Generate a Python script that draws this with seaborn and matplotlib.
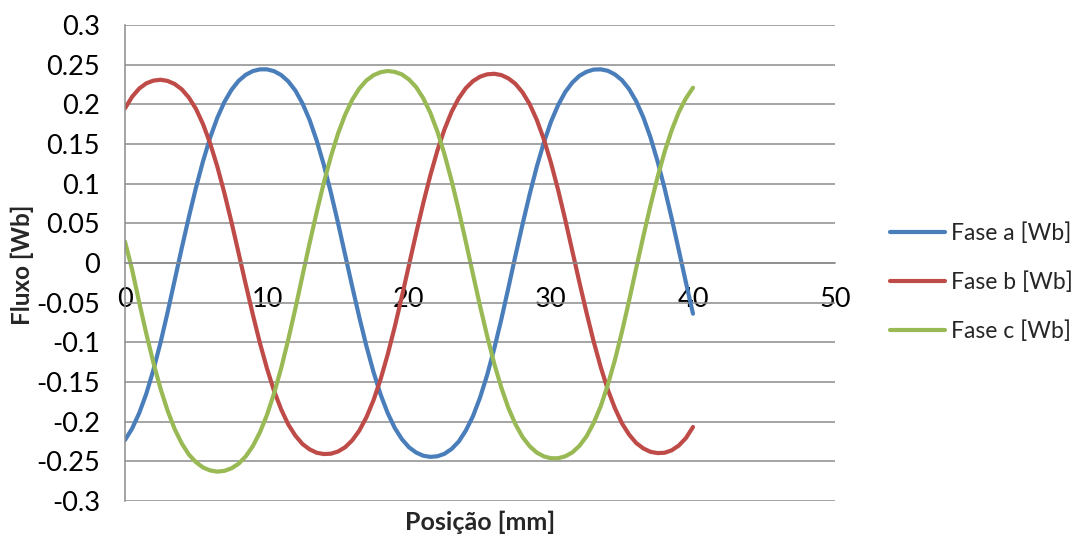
import numpy as np
import pandas as pd
import matplotlib
matplotlib.use("Agg")
import matplotlib.pyplot as plt
import seaborn as sns

# Position along the machine [mm], sampled every 0.5 mm
posicao = np.arange(0, 40.5, 0.5)

fase_a = [
    -0.2232, -0.2087, -0.1892, -0.1648, -0.1348, -0.1005, -0.0622, -0.0216,
    0.0191, 0.0581, 0.0951, 0.1287, 0.1582, 0.1830, 0.2030, 0.2183,
    0.2296, 0.2372, 0.2419, 0.2441, 0.2441, 0.2418, 0.2369, 0.2289,
    0.2173, 0.2011, 0.1804, 0.1543, 0.1238, 0.0887, 0.0506, 0.0105,
    -0.0296, -0.0683, -0.1047, -0.1374, -0.1658, -0.1892, -0.2080, -0.2221,
    -0.2323, -0.2389, -0.2429, -0.2444, -0.2436, -0.2405, -0.2344, -0.2251,
    -0.2113, -0.1933, -0.1698, -0.1414, -0.1081, -0.0711, -0.0312, 0.0096,
    0.0491, 0.0868, 0.1215, 0.1520, 0.1781, 0.1990, 0.2155, 0.2274,
    0.2359, 0.2410, 0.2438, 0.2441, 0.2423, 0.2377, 0.2304, 0.2192,
    0.2039, 0.1837, 0.1586, 0.1285, 0.0941, 0.0562, 0.0162, -0.0244,
    -0.0639,
]

fase_b = [
    0.1949, 0.2095, 0.2199, 0.2265, 0.2299, 0.2310, 0.2295, 0.2256,
    0.2189, 0.2085, 0.1942, 0.1748, 0.1506, 0.1216, 0.0881, 0.0514,
    0.0126, -0.0267, -0.0648, -0.1008, -0.1330, -0.1614, -0.1846, -0.2036,
    -0.2177, -0.2282, -0.2349, -0.2392, -0.2408, -0.2404, -0.2376, -0.2323,
    -0.2236, -0.2113, -0.1945, -0.1730, -0.1465, -0.1153, -0.0802, -0.0421,
    -0.0024, 0.0371, 0.0752, 0.1103, 0.1418, 0.1685, 0.1906, 0.2076,
    0.2204, 0.2292, 0.2348, 0.2378, 0.2385, 0.2369, 0.2327, 0.2258,
    0.2150, 0.2002, 0.1804, 0.1558, 0.1261, 0.0922, 0.0548, 0.0152,
    -0.0243, -0.0625, -0.0987, -0.1311, -0.1596, -0.1830, -0.2022, -0.2163,
    -0.2269, -0.2337, -0.2380, -0.2396, -0.2392, -0.2361, -0.2301, -0.2207,
    -0.2067,
]

fase_c = [
    0.0270, -0.0083, -0.0496, -0.0891, -0.1256, -0.1583, -0.1861, -0.2094,
    -0.2275, -0.2415, -0.2511, -0.2578, -0.2615, -0.2630, -0.2620, -0.2588,
    -0.2530, -0.2438, -0.2309, -0.2135, -0.1914, -0.1642, -0.1325, -0.0963,
    -0.0572, -0.0159, 0.0250, 0.0641, 0.1011, 0.1342, 0.1631, 0.1868,
    0.2057, 0.2199, 0.2301, 0.2367, 0.2405, 0.2420, 0.2409, 0.2377,
    0.2313, 0.2218, 0.2078, 0.1894, 0.1657, 0.1370, 0.1037, 0.0665,
    0.0269, -0.0138, -0.0539, -0.0918, -0.1267, -0.1570, -0.1828, -0.2034,
    -0.2195, -0.2310, -0.2390, -0.2438, -0.2461, -0.2461, -0.2437, -0.2388,
    -0.2305, -0.2186, -0.2018, -0.1806, -0.1537, -0.1223, -0.0864, -0.0474,
    -0.0066, 0.0335, 0.0721, 0.1079, 0.1401, 0.1674, 0.1902, 0.2076,
    0.2209,
]

series_names = ["Fase a [Wb]", "Fase b [Wb]", "Fase c [Wb]"]
series_colors = ["#4A7EBB", "#BE4B48", "#98B954"]

y_ticks = [-0.3, -0.25, -0.2, -0.15, -0.1, -0.05, 0, 0.05, 0.1, 0.15, 0.2, 0.25, 0.3]
y_tick_labels = ["-0.3", "-0.25", "-0.2", "-0.15", "-0.1", "-0.05", "0",
                 "0.05", "0.1", "0.15", "0.2", "0.25", "0.3"]
x_ticks = [0, 10, 20, 30, 40, 50]
x_tick_labels = ["0", "10", "20", "30", "40", "50"]

df = pd.DataFrame({
    "Posição": np.concatenate([posicao] * 3),
    "Fluxo": np.concatenate([fase_a, fase_b, fase_c]),
    "Série": np.repeat(series_names, len(posicao)),
})

sns.set_theme(style="white")
plt.rcParams["font.family"] = ["Lato", "DejaVu Sans"]

grid_color = "#8C8C8C"

fig = plt.figure(figsize=(10.78, 5.35), dpi=100)
ax = fig.add_axes([125 / 1078, 1 - 501 / 535, (835 - 125) / 1078, (501 - 25) / 535])

sns.lineplot(
    data=df, x="Posição", y="Fluxo", hue="Série",
    palette=dict(zip(series_names, series_colors)),
    linewidth=3.0, sort=False, estimator=None, legend=False, ax=ax,
    solid_capstyle="round", solid_joinstyle="round",
)

ax.set_xlim(0, 50)
ax.set_ylim(-0.3, 0.3)
ax.set_yticks(y_ticks)
ax.set_yticklabels(y_tick_labels)
ax.set_xticks(x_ticks)
ax.set_xticklabels(x_tick_labels)
ax.set_xlabel("")
ax.set_ylabel("")

ax.yaxis.grid(True, color=grid_color, linewidth=1.1)
ax.xaxis.grid(False)
ax.set_axisbelow(True)

for side in ("top", "right"):
    ax.spines[side].set_visible(False)
ax.spines["left"].set_color(grid_color)
ax.spines["left"].set_linewidth(1.1)
ax.spines["bottom"].set_position(("data", 0))
ax.spines["bottom"].set_color(grid_color)
ax.spines["bottom"].set_linewidth(1.1)

ax.tick_params(axis="y", length=0, pad=18, labelsize=19.5, colors="black")
ax.tick_params(axis="x", length=0, pad=17, labelsize=19.5, colors="black")

fig.text(22 / 1078, 1 - 265 / 535, "Fluxo [Wb]", rotation=90, ha="center",
         va="center", fontsize=17.5, fontweight="bold")
fig.text(480 / 1078, 1 - 522 / 535, "Posição [mm]", ha="center", va="center",
         fontsize=18, fontweight="bold")

handles = ax.get_lines()[:3]
fig.legend(handles, series_names, loc="center left",
           bbox_to_anchor=(890 / 1078, 1 - 282.5 / 535), frameon=False,
           fontsize=16.5, handlelength=2.4, handletextpad=0.25,
           labelspacing=1.2, borderpad=0, borderaxespad=0)

fig.savefig("out.png", dpi=100)
